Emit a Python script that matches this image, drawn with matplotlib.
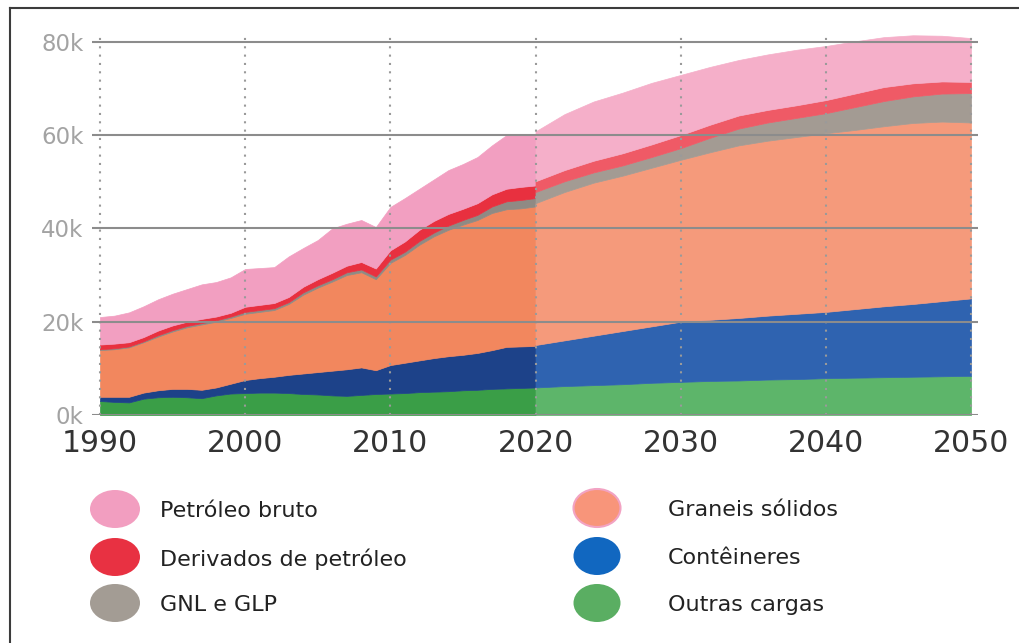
import matplotlib
matplotlib.use("Agg")
import matplotlib.pyplot as plt
from matplotlib.patches import Ellipse
from matplotlib.ticker import FuncFormatter

# thousand tonnes, stacked from the bottom (Outras cargas) to the top (Petróleo bruto)
hist_years = list(range(1990, 2021))
proj_years = list(range(2020, 2051, 2))

outras_hist = [3.0, 2.8, 2.7, 3.5, 3.8, 3.9, 3.8, 3.6, 4.2, 4.6,
               4.7, 4.8, 4.8, 4.7, 4.5, 4.4, 4.2, 4.1, 4.3, 4.5,
               4.6, 4.7, 4.9, 5.0, 5.1, 5.3, 5.4, 5.6, 5.7, 5.8, 5.9]
conteineres_hist = [0.9, 1.1, 1.2, 1.3, 1.5, 1.7, 1.8, 1.8, 1.7, 2.1,
                    2.8, 3.1, 3.4, 3.9, 4.4, 4.8, 5.3, 5.7, 5.9, 5.1,
                    6.1, 6.5, 6.8, 7.2, 7.5, 7.6, 7.9, 8.3, 8.9, 8.9, 8.9]
graneis_hist = [10.0, 10.2, 10.6, 10.8, 11.5, 12.3, 13.2, 14.0, 14.1, 14.1,
                14.2, 14.2, 14.3, 15.2, 16.9, 18.1, 19.1, 20.2, 20.4, 19.5,
                21.9, 23.1, 24.8, 26.1, 27.1, 27.9, 28.5, 29.4, 29.5, 29.6, 29.9]
gnl_hist = [0.2, 0.2, 0.2, 0.2, 0.3, 0.3, 0.3, 0.3, 0.3, 0.3,
            0.4, 0.4, 0.4, 0.4, 0.5, 0.5, 0.5, 0.6, 0.6, 0.6,
            0.7, 0.7, 0.8, 0.8, 0.9, 1.0, 1.1, 1.4, 1.7, 1.8, 1.8]
derivados_hist = [1.0, 1.0, 0.9, 0.9, 1.0, 1.0, 0.9, 0.9, 0.8, 0.8,
                  1.1, 1.1, 1.1, 1.1, 1.2, 1.3, 1.4, 1.4, 1.6, 1.7,
                  2.0, 2.2, 2.4, 2.5, 2.5, 2.4, 2.5, 2.6, 2.7, 2.8, 2.7]
petroleo_hist = [5.9, 6.0, 6.4, 6.6, 6.7, 6.8, 7.0, 7.4, 7.4, 7.6,
                 8.1, 7.9, 7.7, 8.7, 8.3, 8.4, 9.5, 9.0, 9.0, 8.9,
                 9.3, 9.3, 8.8, 8.9, 9.4, 9.6, 9.9, 10.5, 11.5, 11.1, 10.8]

outras_proj = [5.9, 6.2, 6.4, 6.6, 6.9, 7.1, 7.3, 7.4, 7.6, 7.7, 7.9, 8.0, 8.1, 8.2, 8.3, 8.4]
conteineres_proj = [9.1, 9.8, 10.6, 11.4, 12.1, 12.9, 13.1, 13.4, 13.7, 14.0, 14.2, 14.7, 15.2, 15.6, 16.1, 16.6]
graneis_proj = [30.4, 31.8, 32.8, 33.3, 34.0, 34.7, 35.9, 37.0, 37.5, 37.9, 38.3, 38.4, 38.6, 38.8, 38.5, 37.7]
gnl_proj = [2.4, 2.3, 2.2, 2.2, 2.3, 2.5, 3.1, 3.6, 3.9, 4.1, 4.3, 4.9, 5.4, 5.7, 6.0, 6.3]
derivados_proj = [2.3, 2.4, 2.5, 2.6, 2.7, 2.8, 2.8, 2.8, 2.7, 2.7, 2.8, 2.9, 3.0, 2.8, 2.6, 2.4]
petroleo_proj = [10.7, 12.0, 12.7, 13.0, 13.2, 12.9, 12.4, 11.9, 11.9, 11.9, 11.6, 11.2, 10.7, 10.3, 9.8, 9.4]

# bottom -> top
hist_colors = ["#3a9e47", "#1d4289", "#f2875e", "#8f8a84", "#e8303f", "#f29fc1"]
proj_colors = ["#5db56a", "#2f63b0", "#f59a7b", "#a39b93", "#ef5a66", "#f5afc9"]

legend_left = ["Petróleo bruto", "Derivados de petróleo", "GNL e GLP"]
legend_right = ["Graneis sólidos", "Contêineres", "Outras cargas"]
legend_left_colors = ["#f29ec0", "#e83142", "#a39c94"]
legend_right_colors = ["#f8957a", "#1167c0", "#5aae62"]

W, H = 1019, 643
fig = plt.figure(figsize=(W / 100, H / 100), dpi=100)
fig.patch.set_facecolor("white")

# plot area in pixels: x 92..978, y 33..415
ax = fig.add_axes([92 / W, (H - 415) / H, (978 - 92) / W, (415 - 33.4) / H])

ax.stackplot(hist_years, outras_hist, conteineres_hist, graneis_hist, gnl_hist,
             derivados_hist, petroleo_hist, colors=hist_colors,
             edgecolor="face", linewidth=0.5)
ax.stackplot(proj_years, outras_proj, conteineres_proj, graneis_proj, gnl_proj,
             derivados_proj, petroleo_proj, colors=proj_colors,
             edgecolor="face", linewidth=0.5)

ax.set_xlim(1989.45, 2050.48)
ax.set_ylim(0, 81.8)
ax.set_xticks(range(1990, 2051, 10))
ax.set_yticks(range(0, 81, 20))
ax.yaxis.set_major_formatter(FuncFormatter(lambda v, p: f"{v:.0f}k"))

ax.set_axisbelow(False)
ax.yaxis.grid(True, color="#8c8c8c", linewidth=1.5, linestyle="-")
ax.xaxis.grid(True, color="#9a9a9a", linewidth=1.5, linestyle=(0, (1, 3)))
for s in ax.spines.values():
    s.set_visible(False)
ax.tick_params(axis="x", length=0, pad=10, labelsize=21.5, labelcolor="#333333")
ax.tick_params(axis="y", length=0, pad=6, labelsize=16.5, labelcolor="#a3a3a3")

# overlay in pixel coordinates for the legend and the page frame
ov = fig.add_axes([0, 0, 1, 1])
ov.set_xlim(0, W)
ov.set_ylim(H, 0)
ov.axis("off")
ov.patch.set_alpha(0)

ov.plot([10, 10], [8, H], color="#3c3c3c", lw=1.5, clip_on=False)
ov.plot([10, W], [8, 8], color="#3c3c3c", lw=1.5, clip_on=False)

rows_left = [509, 557, 603]
rows_right = [508, 556, 603]
for name, col, yc in zip(legend_left, legend_left_colors, rows_left):
    ov.add_patch(Ellipse((115, yc), 50, 38, facecolor=col, edgecolor="none"))
    ov.text(160, yc + 2, name, fontsize=16, color="#222222", va="center", ha="left")
for i, (name, col, yc) in enumerate(zip(legend_right, legend_right_colors, rows_right)):
    edge = "#f2a3c3" if i == 0 else "none"
    ov.add_patch(Ellipse((597, yc), 47, 38, facecolor=col, edgecolor=edge, lw=1.5))
    ov.text(668, yc + 2, name, fontsize=16, color="#222222", va="center", ha="left")

fig.savefig("out.png", dpi=100, facecolor="white")
